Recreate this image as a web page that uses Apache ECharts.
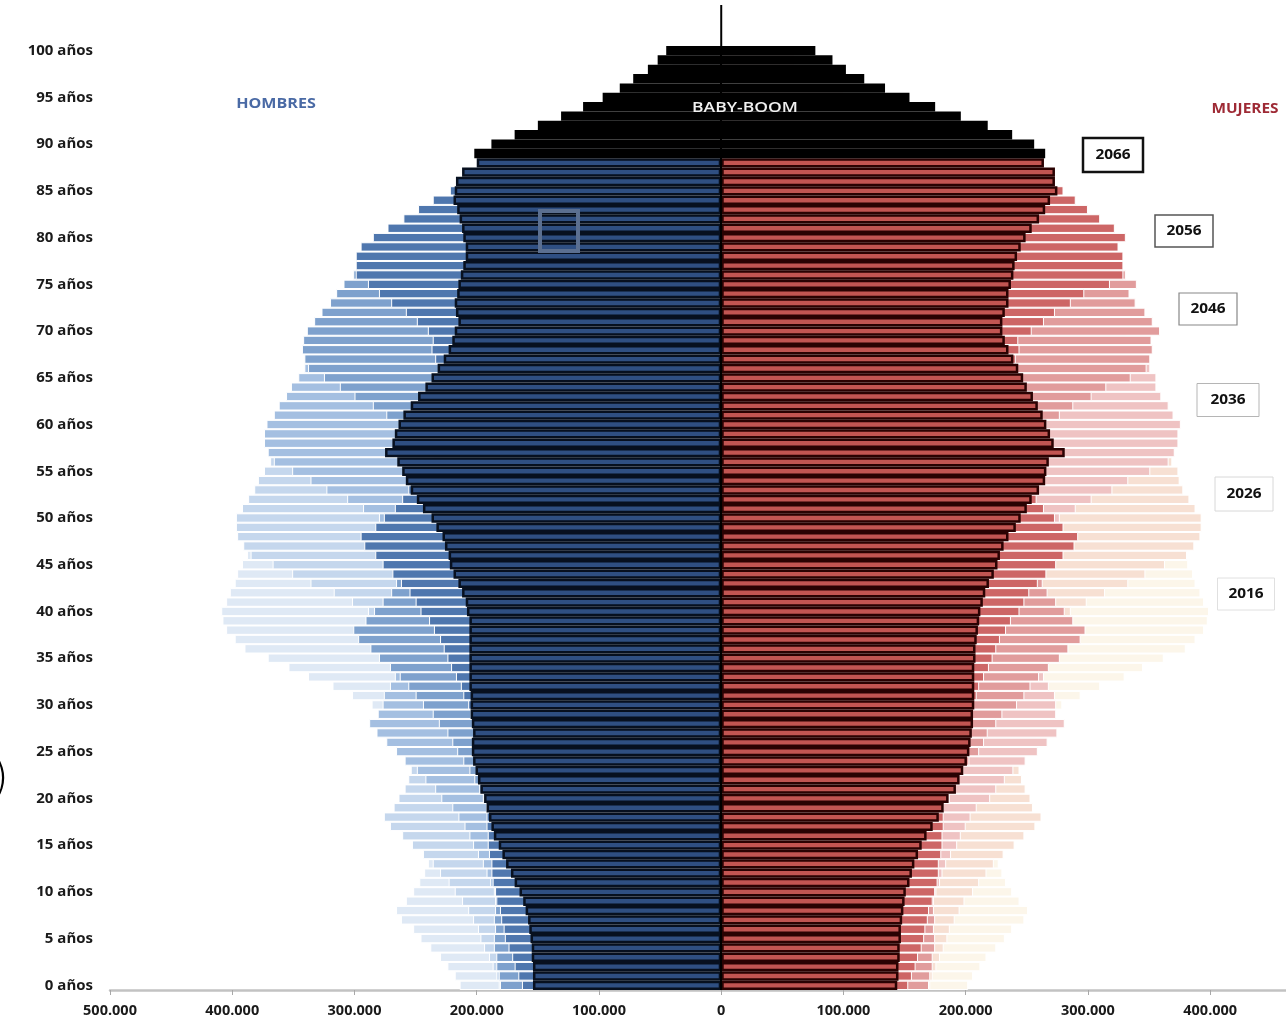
<!DOCTYPE html>
<html><head><meta charset="utf-8">
<script src="https://cdn.jsdelivr.net/npm/echarts@6/dist/echarts.min.js"></script>
<style>html,body{margin:0;padding:0;background:#fff}#c{width:1286px;height:1025px}</style>
</head><body><div id="c"></div>
<script>
// Edades (categorías)
const edades = [0,1,2,3,4,5,6,7,8,9,10,11,12,13,14,15,16,17,18,19,20,21,22,23,24,25,26,27,28,29,30,31,32,33,34,35,36,37,38,39,40,41,42,43,44,45,46,47,48,49,50,51,52,53,54,55,56,57,58,59,60,61,62,63,64,65,66,67,68,69,70,71,72,73,74,75,76,77,78,79,80,81,82,83,84,85,86,87,88,89,90,91,92,93,94,95,96,97,98,99,100];
const anios = ['2016','2026','2036','2046','2056','2066'];
const edadBabyBoomDesde = 89;
// eje X en miles (el borde derecho de la imagen corta la escala en ~462 mil)
const ejeXMin = -500, ejeXMax = 462, ejeXPaso = 100;

// Población en miles — HOMBRES
const hombres2016 = [214,218,224,230,238,246,252,262,266,258, 252,247,243,240,236,233,228,224,222,222, 224,226,230,236,243,250,258,266,274,278, 286,302,318,338,354,371,390,398,405,408, 409,405,402,398,396,392,388,382,378,372, 365,358,350,342,334,326,316,305,296,287, 276,268,260,253,246,240,236,232,226,218, 208,196,184,168,158,152,146,134,124,118, 110,102,94,86,78,68,60,52,44,36, 29,23,18,14,10,7,5,4,3,2, 2];
const hombres2026 = [182,184,187,190,194,197,199,203,207,212, 218,223,230,236,244,253,261,271,276,268, 264,259,256,254,251,249,243,239,238,238, 239,241,243,249,254,259,266,273,279,282, 289,302,317,336,351,367,385,391,396,397, 397,392,387,382,379,374,369,362,357,350, 342,335,327,318,310,302,292,281,272,263, 252,243,235,228,220,214,209,204,197,188, 178,165,152,135,124,115,107,94,84,78, 71,61,52,44,36,29,22,18,13,10, 9];
const hombres2036 = [181,180,181,180,181,181,181,183,183,185, 186,189,192,195,199,203,206,210,215,220, 229,234,242,249,259,266,274,282,288,281, 277,276,271,267,262,258,251,245,242,241, 241,241,243,248,252,256,262,268,273,274, 280,293,306,323,336,351,366,371,374,374, 372,366,362,356,352,346,341,333,328,320, 312,304,295,286,278,269,258,246,236,227, 215,205,194,184,173,162,153,143,133,125, 115,98,84,69,58,49,40,32,25,21, 20];
const hombres2046 = [181,182,184,184,186,186,185,186,185,185, 185,185,185,184,185,186,187,189,190,192, 195,198,202,206,211,216,220,224,231,236, 244,250,256,263,271,280,287,297,301,291, 284,277,270,266,260,255,247,241,237,235, 234,233,234,238,241,245,250,254,258,258, 263,274,285,300,312,325,338,341,343,342, 339,333,327,320,315,309,301,293,285,277, 267,256,244,231,218,204,189,174,160,150, 140,122,107,94,81,69,57,49,40,34, 33];
const hombres2056 = [163,166,169,171,174,177,178,180,181,184, 185,187,188,188,190,191,191,192,192,192, 194,194,195,195,197,199,200,202,203,205, 207,211,213,217,221,224,227,230,235,239, 246,250,255,262,269,277,283,292,295,283, 276,267,261,256,249,244,235,228,224,221, 219,218,218,221,224,227,230,234,237,236, 240,249,258,270,280,289,299,299,299,295, 285,273,260,248,236,222,208,195,182,172, 163,146,130,114,99,84,70,58,47,40, 39];
const hombres2066 = [154,154,154,155,155,156,157,158,160,162, 165,169,172,176,179,182,186,188,190,192, 194,197,199,201,203,204,204,203,204,205, 205,205,206,206,206,206,206,206,206,206, 208,209,212,215,219,222,223,226,228,233, 237,244,249,254,258,261,265,275,269,267, 264,260,254,248,242,237,232,227,223,220, 218,215,217,218,216,215,213,211,209,209, 211,212,214,216,219,218,217,212,200,202, 188,169,150,131,113,97,83,72,60,52, 45];

// Población en miles — MUJERES
const mujeres2016 = [202,206,212,217,225,232,238,248,251,244, 238,233,230,227,223,220,215,212,210,210, 217,219,223,229,236,243,250,258,266,270, 279,294,310,330,345,362,380,388,395,398, 399,395,392,388,386,382,378,372,369,363, 365,358,350,342,334,333,322,311,302,293, 290,281,273,266,258,262,257,253,246,238, 239,225,212,200,196,193,185,176,168,163, 158,148,137,126,117,108,100,88,77,66, 56,46,37,29,22,17,13,10,7,5, 6];
const mujeres2026 = [171,173,176,179,182,185,187,191,195,199, 206,211,217,223,231,240,248,257,262,255, 253,249,246,244,241,243,237,233,232,232, 237,239,241,247,251,256,263,270,276,279, 286,299,314,333,347,363,381,387,392,393, 393,388,383,378,375,374,369,362,357,350, 345,338,330,321,313,311,301,289,280,271, 267,258,249,242,233,235,230,224,217,207, 206,191,176,157,144,145,135,118,106,98, 98,84,72,61,50,46,35,29,21,16, 16];
const mujeres2036 = [170,169,170,169,170,170,170,172,172,174, 176,179,181,184,188,193,196,200,204,209, 220,225,232,239,249,259,267,275,281,274, 274,273,268,264,259,255,248,243,240,239, 239,239,241,246,249,253,259,265,270,271, 277,290,303,320,333,351,366,371,374,374, 376,370,366,360,356,356,351,343,338,330, 331,322,313,303,295,296,284,271,260,250, 249,238,225,213,201,204,193,180,168,158, 159,135,116,95,80,78,64,51,40,34, 35];
const mujeres2046 = [170,171,173,173,175,175,174,175,174,174, 175,175,175,174,175,177,178,180,181,182, 187,190,194,198,203,211,215,218,225,230, 242,248,253,260,268,277,284,294,298,288, 281,274,267,263,257,252,245,239,235,233, 232,231,232,236,239,245,250,254,258,258, 266,277,288,303,315,335,348,351,353,352, 359,353,347,339,334,340,331,322,314,305, 310,297,283,268,253,257,238,219,202,189, 193,168,148,130,112,110,91,78,64,54, 58];
const mujeres2056 = [153,156,159,161,164,166,167,169,170,173, 175,177,178,178,180,181,181,182,182,182, 186,186,187,187,189,194,195,197,198,200, 205,209,211,215,219,222,225,228,233,237, 244,248,252,259,266,274,280,289,292,280, 273,264,258,253,247,244,235,228,224,221, 221,220,220,223,226,234,237,241,244,243, 254,264,273,286,297,318,329,329,329,325, 331,322,310,300,290,280,264,248,232,222, 212,196,177,157,137,118,100,84,70,60, 62];
const mujeres2066 = [144,145,145,146,146,147,147,148,149,150, 151,154,156,158,161,164,168,173,178,182, 186,192,195,198,201,203,204,205,206,206, 207,207,207,207,207,208,208,209,210,211, 212,214,216,219,223,226,228,231,235,241, 245,250,254,260,265,266,268,281,272,269, 266,263,259,255,250,247,243,239,235,232, 230,230,232,235,235,237,239,240,242,245, 249,254,260,265,269,275,273,273,264,265, 256,238,218,196,175,154,134,117,102,91, 77];

const H = [hombres2016,hombres2026,hombres2036,hombres2046,hombres2056,hombres2066];
const M = [mujeres2016,mujeres2026,mujeres2036,mujeres2046,mujeres2056,mujeres2066];
const colH = ['#dfe9f5','#c5d7ed','#a4bfe1','#7ea1cd','#4f77ae','#2f4f82'];
const colM = ['#fcf6ea','#f7e0d3','#efc3c3','#e19c9c','#cd6666','#c25552'];

const chart = echarts.init(document.getElementById('c'), null, {renderer:'canvas'});
const series = [];
anios.forEach((y, i) => {
  const last = i === anios.length - 1;
  const mk = (arr, sign) => arr.map((v, k) => {
    const it = {value: sign * v};
    if (last && edades[k] >= edadBabyBoomDesde) it.itemStyle = {color:'#000', borderColor:'#000'};
    return it;
  });
  series.push({
    type:'bar', name:'Hombres ' + y, data: mk(H[i], -1),
    barGap:'-100%', barCategoryGap:'0%', silent:true,
    itemStyle:{color: colH[i], borderColor: last ? '#07101f' : '#ffffff', borderWidth: last ? 2.5 : 1}
  });
  series.push({
    type:'bar', name:'Mujeres ' + y, data: mk(M[i], 1),
    barGap:'-100%', barCategoryGap:'0%', silent:true,
    itemStyle:{color: colM[i], borderColor: last ? '#2a0202' : '#ffffff', borderWidth: last ? 2.5 : 1}
  });
});
series[series.length-1].markLine = {
  silent:true, symbol:'none', label:{show:false},
  lineStyle:{color:'#000', width:2, type:'solid'},
  data:[{xAxis:0}]
};

const cajas = [
  {t:'2066', cx:1113, cy:155, w:60, h:34, stroke:'#111', lw:2.5},
  {t:'2056', cx:1184, cy:231, w:58, h:32, stroke:'#555', lw:1.5},
  {t:'2046', cx:1208, cy:309, w:58, h:32, stroke:'#888', lw:1.2},
  {t:'2036', cx:1228, cy:400, w:62, h:33, stroke:'#b5b5b5', lw:1},
  {t:'2026', cx:1244, cy:494, w:58, h:34, stroke:'#d8d8d8', lw:1},
  {t:'2016', cx:1246, cy:594, w:57, h:32, stroke:'#e0e0e0', lw:1}
];
const graphic = [];
cajas.forEach(c => {
  graphic.push({type:'rect', z:100, shape:{x:c.cx-c.w/2, y:c.cy-c.h/2, width:c.w, height:c.h},
    style:{fill:'#fff', stroke:c.stroke, lineWidth:c.lw}});
  graphic.push({type:'text', z:101, x:c.cx, y:c.cy, scaleX:1.1,
    style:{text:c.t, fill:'#111', font:'bold 14px "Open Sans"', textAlign:'center', verticalAlign:'middle'}});
});
graphic.push({type:'text', z:101, x:276, y:104, scaleX:1.15, style:{text:'HOMBRES', fill:'#4a6aa5', font:'bold 14px "Open Sans"', textAlign:'center', verticalAlign:'middle'}});
graphic.push({type:'text', z:101, x:1245, y:109, scaleX:1.1, style:{text:'MUJERES', fill:'#9e2a35', font:'bold 14px "Open Sans"', textAlign:'center', verticalAlign:'middle'}});
graphic.push({type:'text', z:101, x:745, y:108, scaleX:1.25, style:{text:'BABY-BOOM', fill:'#f0f0f0', font:'600 14px "Open Sans"', textAlign:'center', verticalAlign:'middle'}});
graphic.push({type:'rect', z:101, shape:{x:540, y:211, width:38, height:40}, style:{fill:'none', stroke:'#5b6f90', lineWidth:4}});
graphic.push({type:'text', z:101, x:9, y:780, style:{text:')', fill:'#000', font:'300 46px "DejaVu Sans"', textAlign:'right', verticalAlign:'middle'}});

chart.setOption({
  animation:false,
  backgroundColor:'#fff',
  grid:{left:110, top:46, right:0, height:944, containLabel:false},
  xAxis:{
    type:'value', min:ejeXMin, max:ejeXMax, interval:ejeXPaso,
    axisLine:{show:true, lineStyle:{color:'#c2c2c2', width:2.5}},
    axisTick:{show:true, length:5, lineStyle:{color:'#a8a8a8', width:1}},
    splitLine:{show:false},
    axisLabel:{margin:13, color:'#1a1a1a', fontWeight:'bold', fontSize:14.5, fontFamily:'Open Sans',
      showMaxLabel:false,
      formatter: v => (v % ejeXPaso !== 0) ? '' : (v === 0 ? '0' : Math.abs(v) + '.000')}
  },
  yAxis:{
    type:'category', data: edades.map(a => a + ' años'), position:'left',
    axisLine:{show:false}, axisTick:{show:false}, splitLine:{show:false},
    axisLabel:{margin:17, color:'#1a1a1a', fontWeight:'bold', fontSize:15, fontFamily:'Open Sans',
      interval: (idx) => edades[idx] % 5 === 0}
  },
  series: series,
  graphic: graphic
});

const x0 = chart.convertToPixel({xAxisIndex:0}, 0);
chart.setOption({graphic: graphic.concat([{type:'line', z:5, shape:{x1:x0, y1:5, x2:x0, y2:50}, style:{stroke:'#000', lineWidth:2}}])});
</script>
</body></html>
